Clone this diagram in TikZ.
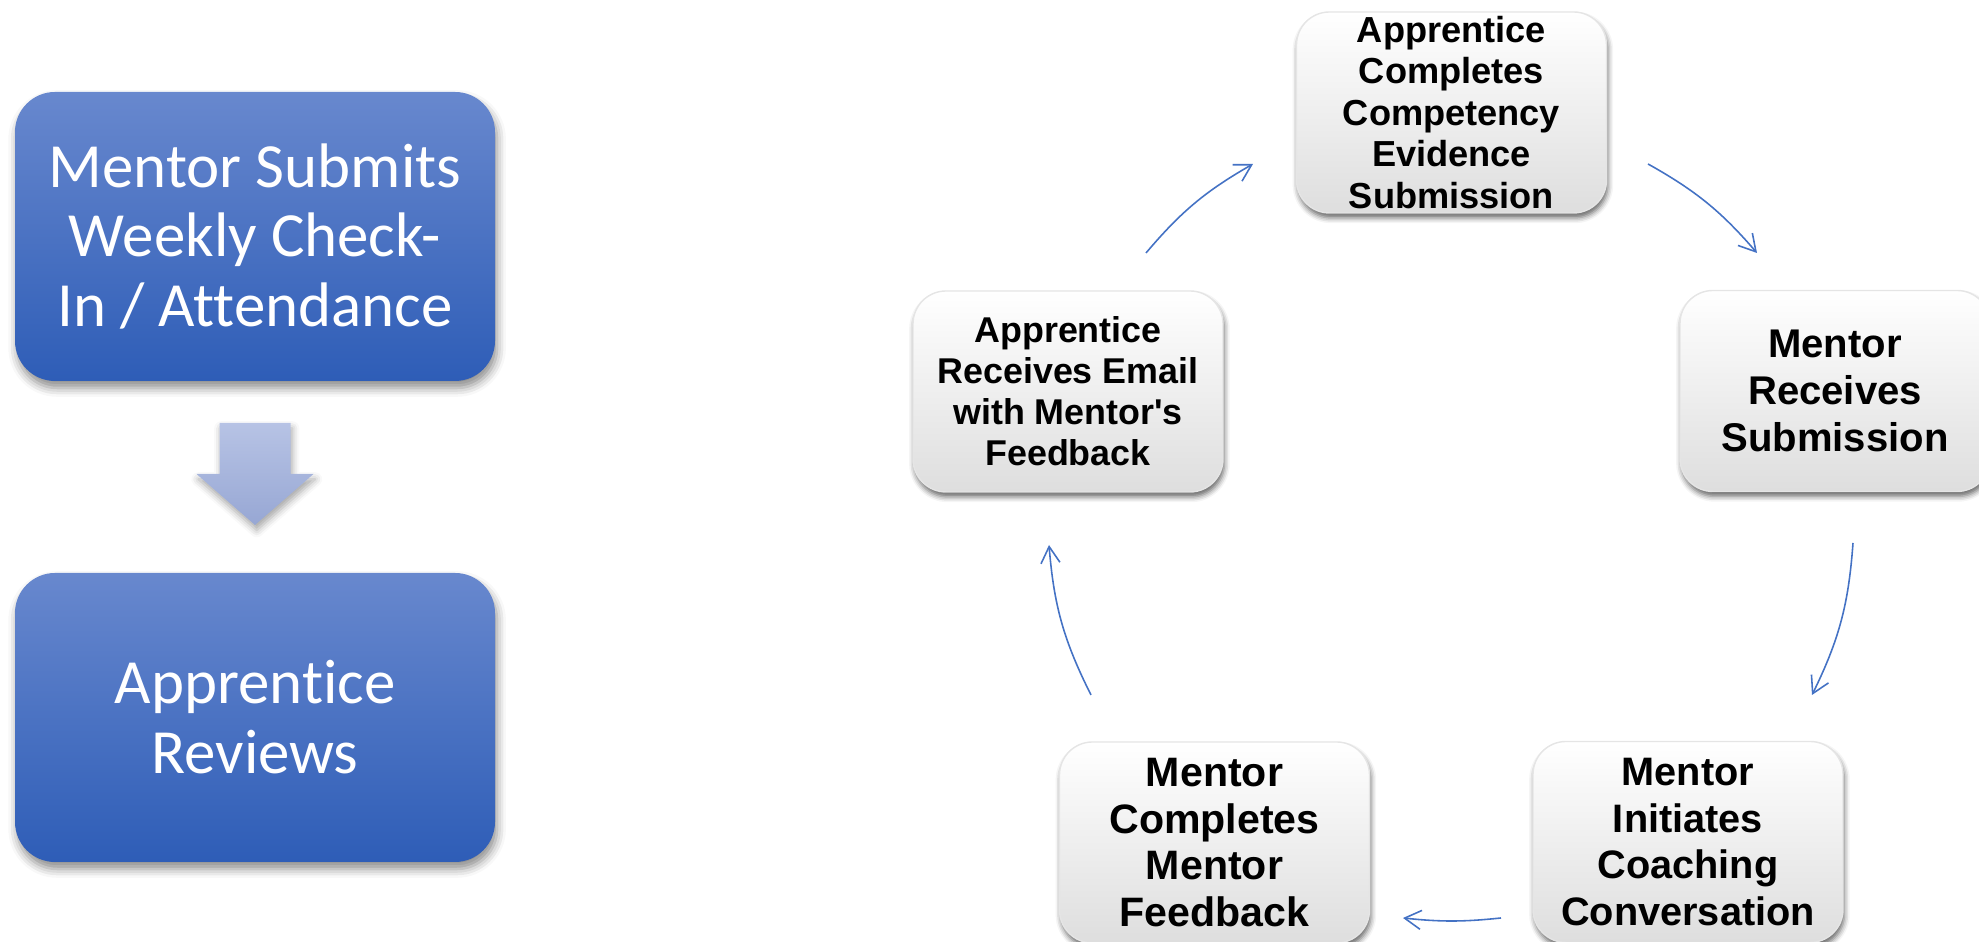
\documentclass[tikz,border=0pt]{standalone}
\usepackage{fontspec}
\setmainfont[Ligatures=NoCommon]{Carlito}
\newfontfamily\stepfont{Liberation Sans}
\usetikzlibrary{arrows.meta,shadows.blur,positioning}
\definecolor{bluetop}{RGB}{104,136,206}
\definecolor{bluebot}{RGB}{46,93,183}
\definecolor{arrtop}{RGB}{183,195,229}
\definecolor{arrbot}{RGB}{151,167,212}
\definecolor{cycblue}{RGB}{68,114,196}

\tikzset{
 bluebox/.style={rounded corners=0.4cm,minimum width=4.8cm,minimum height=2.89cm,inner sep=0pt,
  top color=bluetop,bottom color=bluebot,text=white,align=center,
  font=\fontsize{17.9}{19.9}\selectfont,
  blur shadow={shadow xshift=0.6pt,shadow yshift=-2pt,shadow blur radius=2.5pt,shadow opacity=45}},
 stepbox/.style={rounded corners=0.33cm,minimum width=3.1cm,minimum height=2.01cm,inner sep=0pt,
  draw=black!10,top color=white,middle color=white,bottom color=black!13,align=center,
  blur shadow={shadow xshift=0.4pt,shadow yshift=-1.4pt,shadow blur radius=1.5pt,shadow opacity=60}},
 cyc/.style={draw=cycblue,line width=0.45pt,-{Straight Barb[length=4.7pt,width=5.4pt]}}
}

\begin{document}
\begin{tikzpicture}
\useasboundingbox (0,0) rectangle (19.79,9.42);
% left column
\node[bluebox](chk) at (2.55,7.055){Mentor Submits\\Weekly Check-\\In / Attendance};
\node[bluebox](rev) at (2.55,2.245){Apprentice\\Reviews};
\path[top color=arrtop,bottom color=arrbot,
 blur shadow={shadow xshift=0.5pt,shadow yshift=-1.5pt,shadow blur radius=2pt,shadow opacity=35}]
 (2.195,5.19)--(2.905,5.19)--(2.905,4.68)--(3.135,4.68)--(2.55,4.17)--(1.965,4.68)--(2.195,4.68)--cycle;
% review cycle
\node[stepbox,font=\stepfont\bfseries\fontsize{10.3}{11.8}\selectfont](evid) at (14.515,8.295)
 {Apprentice\\Completes\\Competency\\Evidence\\Submission};
\node[stepbox,font=\stepfont\bfseries\fontsize{11.4}{13.3}\selectfont](recv) at (18.35,5.51)
 {Mentor\\Receives\\Submission};
\node[stepbox,font=\stepfont\bfseries\fontsize{11.3}{13.3}\selectfont](coach) at (16.88,1.0)
 {Mentor\\Initiates\\Coaching\\Conversation};
\node[stepbox,font=\stepfont\bfseries\fontsize{11.7}{13.3}\selectfont](fdbk) at (12.145,0.995)
 {Mentor\\Completes\\Mentor\\Feedback};
\node[stepbox,font=\stepfont\bfseries\fontsize{10.2}{11.7}\selectfont](email) at (10.68,5.505)
 {Apprentice\\Receives Email\\with Mentor's\\Feedback};
\coordinate(a1) at (16.48,7.78); \coordinate(a2) at (17.57,6.89);
\coordinate(b1) at (18.53,3.99); \coordinate(b2) at (18.12,2.47);
\coordinate(c1) at (15.01,0.24); \coordinate(c2) at (14.03,0.24);
\coordinate(d1) at (10.91,2.47); \coordinate(d2) at (10.49,3.97);
\coordinate(e1) at (11.46,6.89); \coordinate(e2) at (12.53,7.78);
\foreach \s/\e/\b in {a1/a2/10,b1/b2/11,c1/c2/6,d1/d2/11,e1/e2/10}
 \draw[cyc](\s) to[bend left=\b] (\e);
\end{tikzpicture}
\end{document}
